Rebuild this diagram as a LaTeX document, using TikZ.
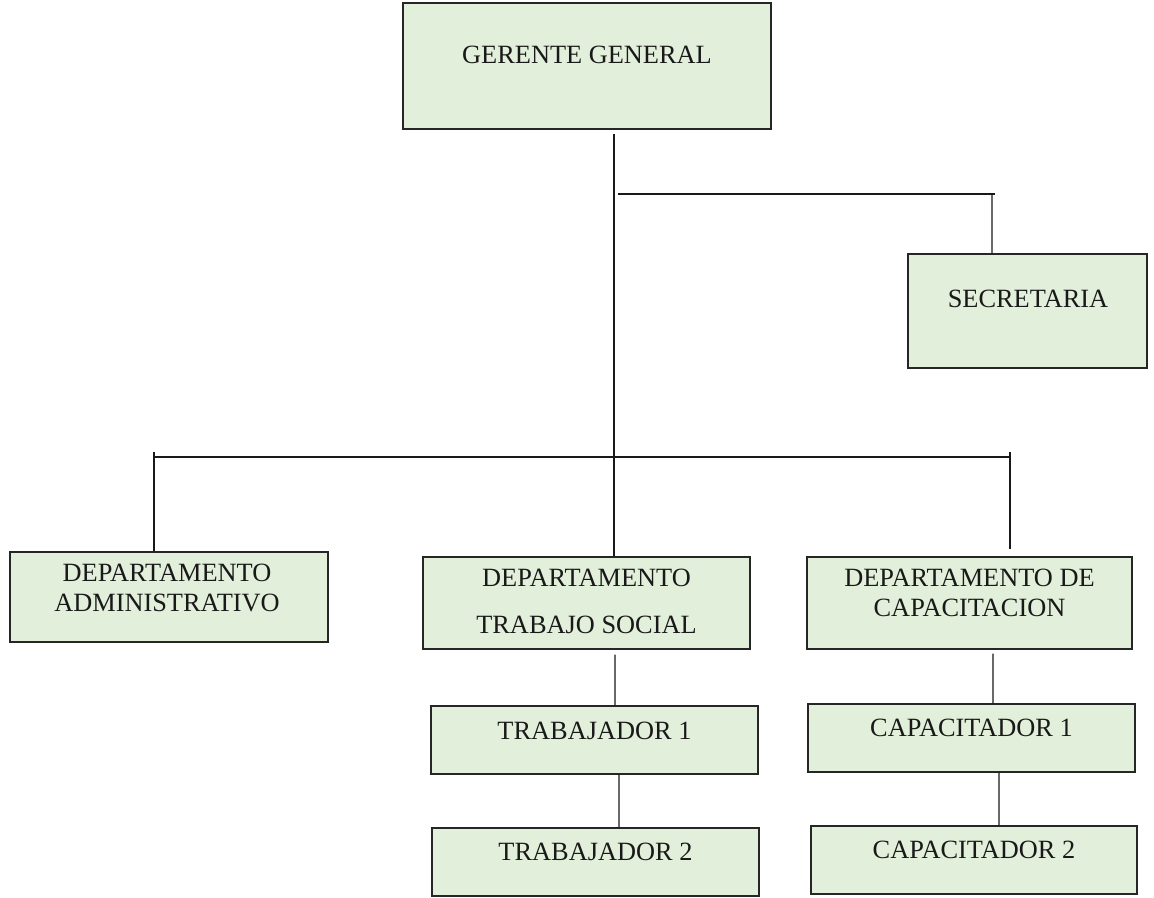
\documentclass[tikz,border=0pt]{standalone}
\usepackage{fontspec}
\setmainfont{Liberation Serif}
\definecolor{boxgreen}{HTML}{E2EFDA}
\tikzset{
  orgbox/.style={draw=black!85, fill=boxgreen, line width=0.8pt, inner sep=0pt},
  orgtext/.style={font=\fontsize{15}{17}\selectfont, text=black!90, align=center, inner sep=0pt},
  link/.style={line width=0.8pt, draw=black!90}
}

\begin{document}
\begin{tikzpicture}[x=0.02cm, y=-0.02cm]
\useasboundingbox (0,0) rectangle (1154,897);
% cajas
\node[orgbox, minimum width=7.36cm, minimum height=2.52cm] (gg) at (587,66) {};
\node[orgbox, minimum width=4.78cm, minimum height=2.28cm] (sec) at (1027.5,311) {};
\node[orgbox, minimum width=6.36cm, minimum height=1.80cm] (adm) at (169,597) {};
\node[orgbox, minimum width=6.54cm, minimum height=1.84cm] (ts) at (586.5,603) {};
\node[orgbox, minimum width=6.50cm, minimum height=1.84cm] (cap) at (969.5,603) {};
\node[orgbox, minimum width=6.54cm, minimum height=1.36cm] (t1) at (594.5,740) {};
\node[orgbox, minimum width=6.54cm, minimum height=1.36cm] (t2) at (595.5,862) {};
\node[orgbox, minimum width=6.54cm, minimum height=1.36cm] (c1) at (971.5,738) {};
\node[orgbox, minimum width=6.52cm, minimum height=1.36cm] (c2) at (974,860) {};
% textos
\node[orgtext] (gg-t) at (587,55) {GERENTE GENERAL};
\node[orgtext] (sec-t) at (1028,299) {SECRETARIA};
\node[orgtext] (adm-t) at (167,588) {DEPARTAMENTO\\ADMINISTRATIVO};
\node[orgtext] (ts-t) at (586.5,601.5) {DEPARTAMENTO\\[9.7pt]TRABAJO SOCIAL};
\node[orgtext] (cap-t) at (969.5,593) {DEPARTAMENTO DE\\CAPACITACION};
\node[orgtext] (t1-t) at (594.5,731) {TRABAJADOR 1};
\node[orgtext] (t2-t) at (595.5,852) {TRABAJADOR 2};
\node[orgtext] (c1-t) at (971.5,728) {CAPACITADOR 1};
\node[orgtext] (c2-t) at (974,850) {CAPACITADOR 2};
% lineas
\coordinate (j1) at (614,457);
\coordinate (a1) at (154,457);
\coordinate (c0) at (1010,457);
\coordinate (s1) at (618,194);
\coordinate (s2) at (992,194);
\draw[link] ([yshift=-0.08cm]j1 |- gg.south) -- (j1) -- (j1 |- ts.north);
\draw[link] (s1) -- ([xshift=0.06cm]s2);
\draw[link] (s2) -- ([xshift=-0.71cm]sec.north);
\draw[link] (a1) -- (c0);
\draw[link] ([yshift=0.1cm]a1) -- (a1 |- adm.north);
\draw[link, shorten >=0.14cm] ([yshift=0.1cm]c0) -- (c0 |- cap.north);
\draw[link] ([xshift=0.57cm,yshift=-0.1cm]ts.south) -- ([xshift=0.41cm]t1.north);
\draw[link] ([xshift=0.49cm]t1.south) -- ([xshift=0.47cm]t2.north);
\draw[link] ([xshift=0.47cm,yshift=-0.08cm]cap.south) -- ([xshift=0.43cm]c1.north);
\draw[link] ([xshift=0.55cm]c1.south) -- ([xshift=0.50cm]c2.north);
\end{tikzpicture}
\end{document}
